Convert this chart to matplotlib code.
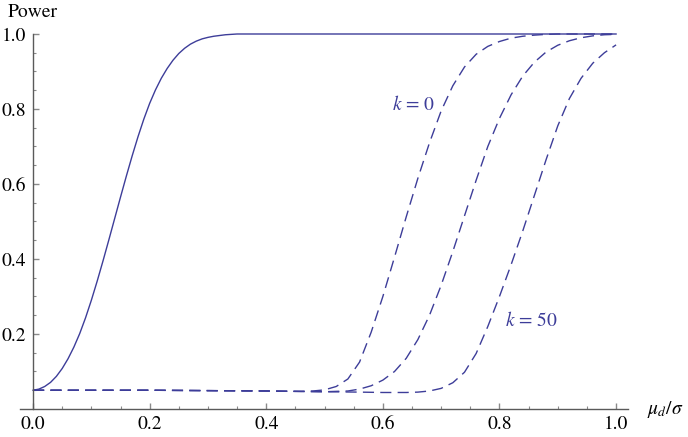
import numpy as np
import matplotlib
matplotlib.use('Agg')
import matplotlib.pyplot as plt

plt.rcParams['font.family'] = ['STIXGeneral', 'Liberation Serif', 'DejaVu Serif']
plt.rcParams['mathtext.fontset'] = 'stix'

# Krzywa ciągła (test bez korekty)
x_solid = [0.00, 0.01, 0.02, 0.03, 0.04, 0.05, 0.06, 0.07, 0.08, 0.09,
           0.10, 0.11, 0.12, 0.13, 0.14, 0.15, 0.16, 0.17, 0.18, 0.19,
           0.20, 0.21, 0.22, 0.23, 0.24, 0.25, 0.26, 0.27, 0.28, 0.29,
           0.30, 0.31, 0.32, 0.33, 0.34, 0.35, 0.40, 0.50, 0.60, 0.70,
           0.80, 0.90, 1.00]
y_solid = [0.050, 0.053, 0.060, 0.071, 0.087, 0.108, 0.134, 0.165, 0.201,
           0.243, 0.290, 0.341, 0.395, 0.451, 0.508, 0.565, 0.621, 0.675,
           0.726, 0.773, 0.815, 0.851, 0.882, 0.908, 0.930, 0.948, 0.962,
           0.973, 0.981, 0.987, 0.991, 0.994, 0.996, 0.998, 0.999, 1.000,
           1.0, 1.0, 1.0, 1.0, 1.0, 1.0, 1.0]

# Krzywe przerywane: k = 0, pośrednia, k = 50
x_k0 = [0.0, 0.1, 0.2, 0.3, 0.4, 0.44, 0.46, 0.48, 0.50, 0.52, 0.54, 0.56,
        0.58, 0.60, 0.62, 0.64, 0.66, 0.68, 0.70, 0.72, 0.74, 0.76, 0.78,
        0.80, 0.82, 0.84, 0.86, 0.88, 0.90, 0.95, 1.0]
y_k0 = [0.050, 0.050, 0.050, 0.049, 0.048, 0.047, 0.047, 0.048, 0.051,
        0.060, 0.080, 0.125, 0.205, 0.300, 0.405, 0.512, 0.615, 0.710,
        0.795, 0.862, 0.912, 0.946, 0.967, 0.980, 0.989, 0.994, 0.997,
        0.999, 1.0, 1.0, 1.0]

x_mid = [0.0, 0.1, 0.2, 0.3, 0.4, 0.45, 0.50, 0.54, 0.56, 0.58, 0.60, 0.62,
         0.64, 0.66, 0.68, 0.70, 0.72, 0.74, 0.76, 0.78, 0.80, 0.82, 0.84,
         0.86, 0.88, 0.90, 0.92, 0.94, 0.96, 0.98, 1.0]
y_mid = [0.050, 0.050, 0.050, 0.049, 0.048, 0.047, 0.046, 0.048, 0.053,
         0.062, 0.077, 0.100, 0.135, 0.185, 0.250, 0.330, 0.420, 0.515,
         0.610, 0.700, 0.775, 0.838, 0.888, 0.925, 0.952, 0.970, 0.982,
         0.990, 0.995, 0.998, 0.999]

x_k50 = [0.0, 0.1, 0.2, 0.3, 0.4, 0.5, 0.56, 0.60, 0.64, 0.66, 0.68, 0.70,
         0.72, 0.74, 0.76, 0.78, 0.80, 0.82, 0.84, 0.86, 0.88, 0.90, 0.92,
         0.94, 0.96, 0.98, 1.0]
y_k50 = [0.050, 0.050, 0.050, 0.049, 0.048, 0.046, 0.045, 0.044, 0.044,
         0.045, 0.048, 0.055, 0.070, 0.098, 0.148, 0.220, 0.300, 0.385,
         0.475, 0.570, 0.665, 0.755, 0.828, 0.882, 0.922, 0.950, 0.971]

kolor = '#3d3d99'

fig = plt.figure(figsize=(6.88, 4.37), dpi=100)
ax = fig.add_axes([0.0294, 0.0641, 0.883, 0.8581])

ax.plot(x_solid, y_solid, color=kolor, lw=1.0, clip_on=False)
for xs, ys in [(x_k0, y_k0), (x_mid, y_mid), (x_k50, y_k50)]:
    ax.plot(xs, ys, color=kolor, lw=1.0, dashes=(8, 4.5), clip_on=False)

ax.set_xlim(-0.022, 1.02)
ax.set_ylim(0, 1.0)

# Osie w stylu Mathematica
ax.spines['top'].set_visible(False)
ax.spines['right'].set_visible(False)
ax.spines['left'].set_position(('data', 0))
ax.spines['bottom'].set_position(('data', 0))
for s in ['left', 'bottom']:
    ax.spines[s].set_color('#5a5a5a')
    ax.spines[s].set_linewidth(1.0)

ax.set_xticks([0.0, 0.2, 0.4, 0.6, 0.8, 1.0])
ax.set_xticklabels(['0.0', '0.2', '0.4', '0.6', '0.8', '1.0'])
ax.set_yticks([0.2, 0.4, 0.6, 0.8, 1.0])
ax.set_yticklabels(['0.2', '0.4', '0.6', '0.8', '1.0'])
ax.set_xticks(np.arange(0.05, 1.0, 0.05), minor=True)
ax.set_yticks(np.arange(0.05, 1.0, 0.05), minor=True)
ax.tick_params(which='major', direction='in', length=4.3, width=1.0,
               color='#8a8a8a', labelsize=14, pad=5)
ax.tick_params(which='minor', direction='in', length=2.5, width=0.8,
               color='#8a8a8a')

fig.text(33 / 688, 1 - 17 / 437, 'Power', ha='center', va='baseline',
         fontsize=14)
fig.text(647 / 688, 1 - 410 / 437, r'$\mu_d/\sigma$', ha='left',
         va='center', fontsize=14)

ax.text(0.616, 0.811, '$k$ = 0', color=kolor, fontsize=14,
        ha='left', va='center')
ax.text(0.81, 0.237, '$k$ = 50', color=kolor, fontsize=14,
        ha='left', va='center')

fig.savefig('out.png', dpi=100)
